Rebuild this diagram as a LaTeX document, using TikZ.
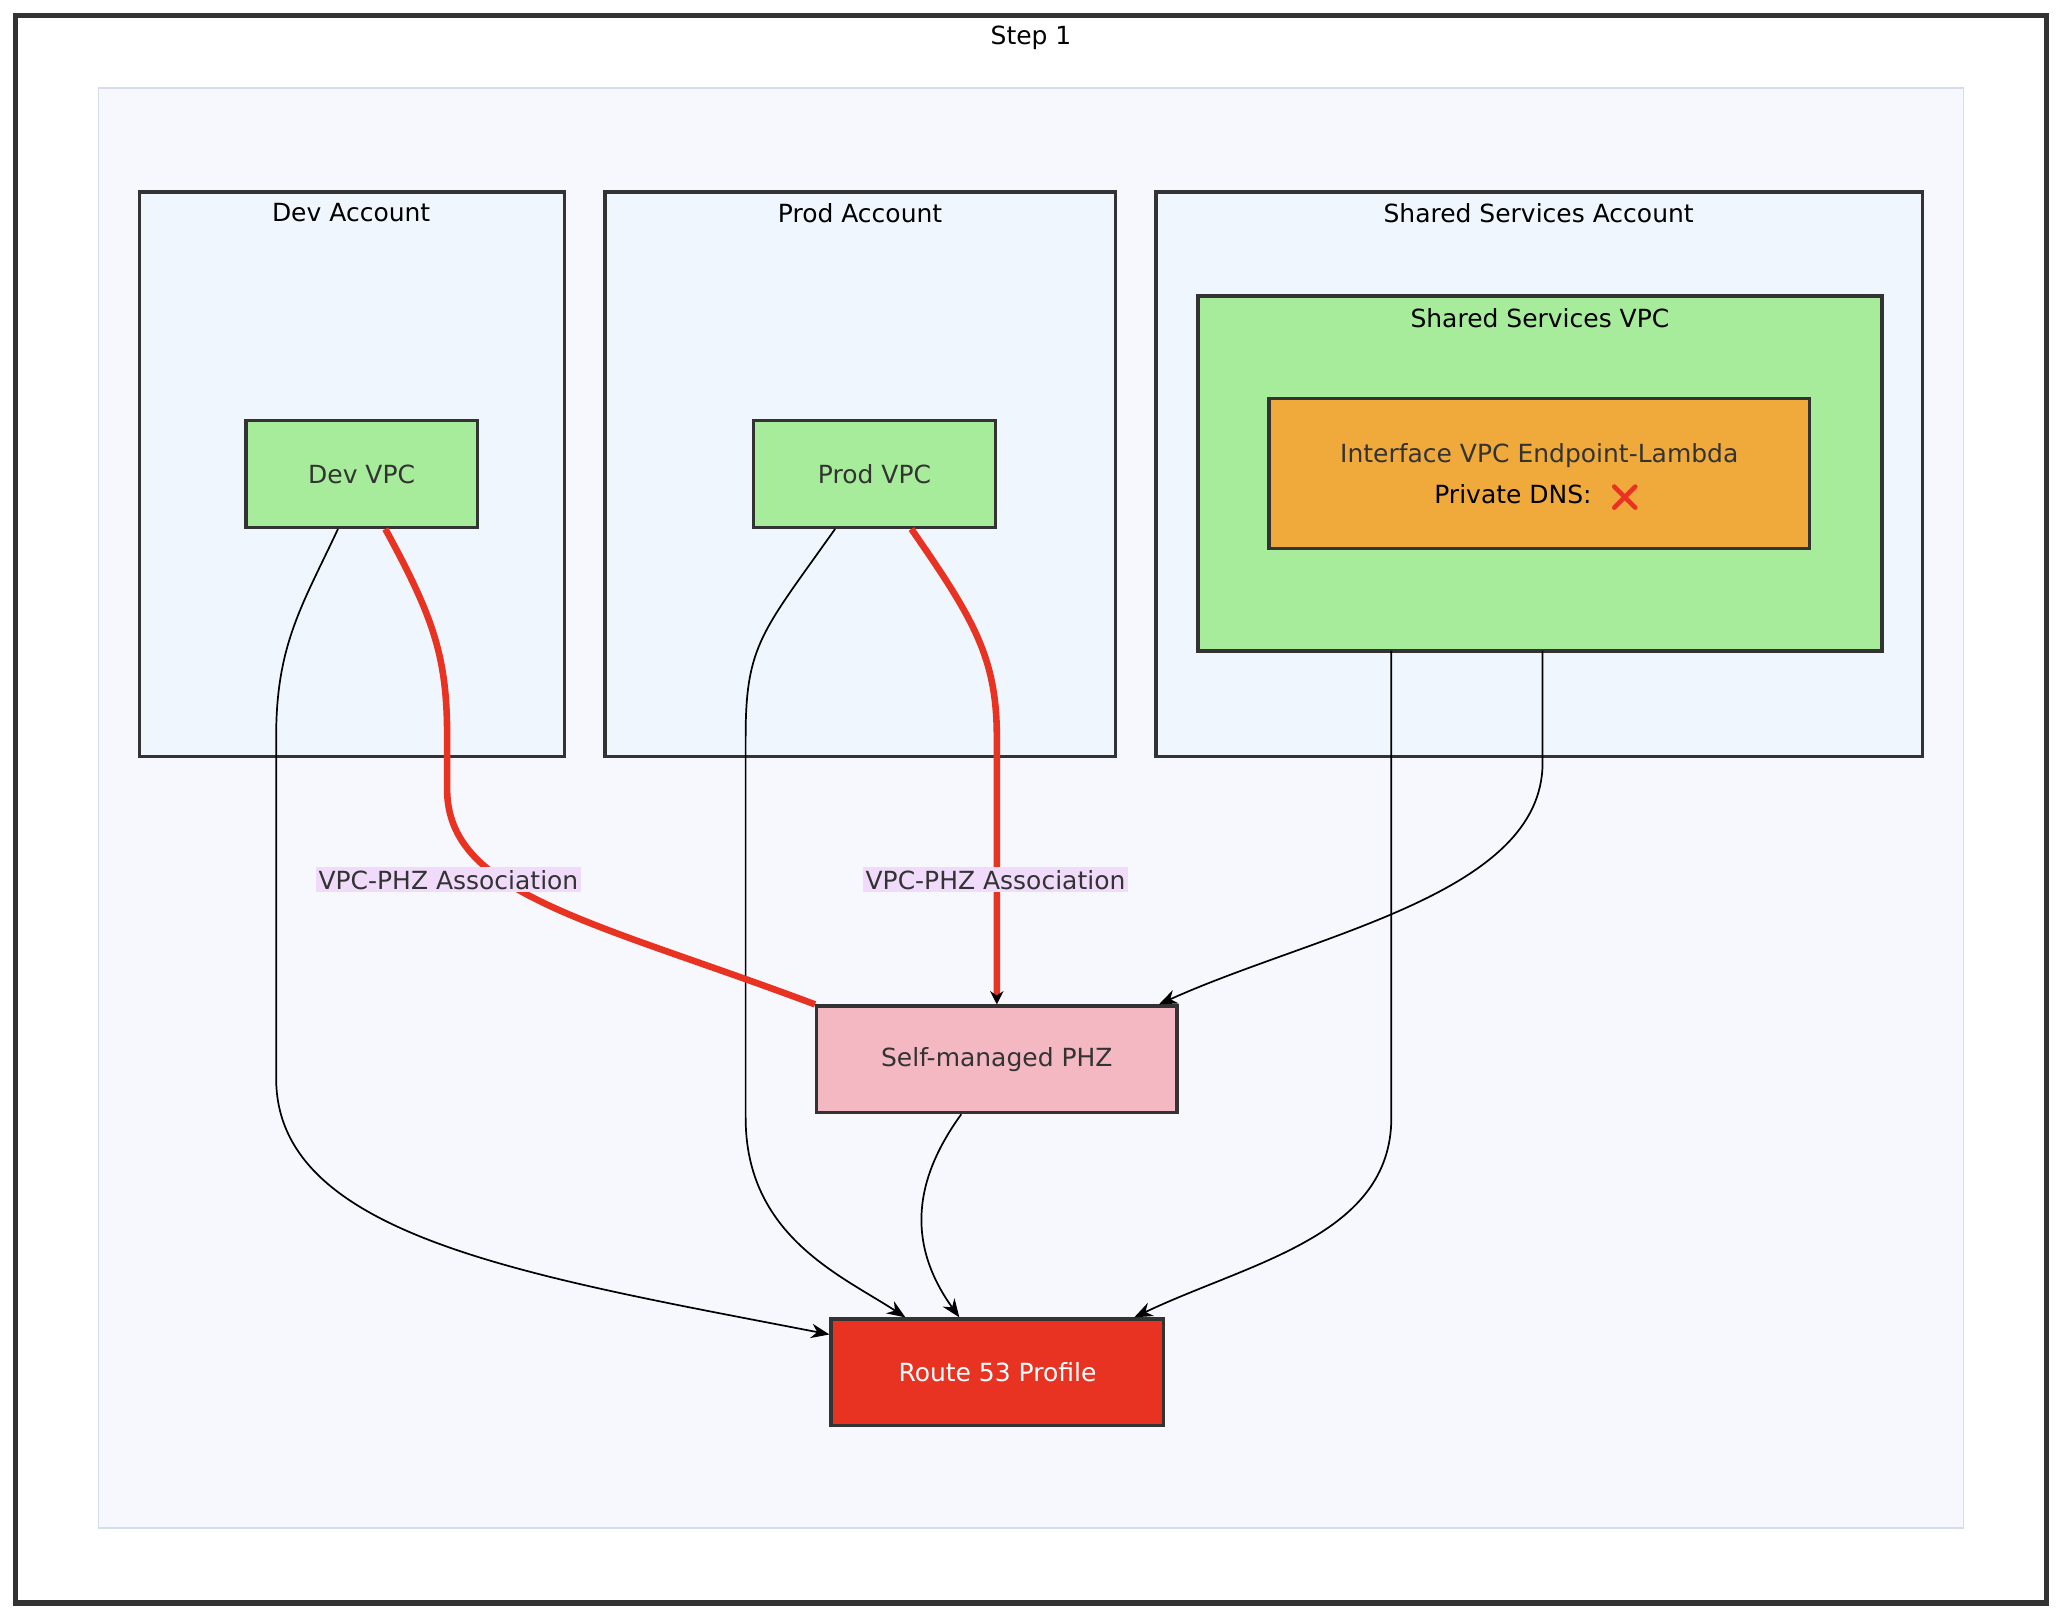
\documentclass[tikz,border=0pt]{standalone}
\usepackage{fontspec}
\setmainfont{DejaVu Sans}
\usetikzlibrary{arrows.meta,calc}
\definecolor{vpc}{HTML}{A6EC9A}
\definecolor{acct}{HTML}{EFF6FD}
\definecolor{bg}{HTML}{F7F8FD}
\definecolor{bgline}{HTML}{D5DCEF}
\definecolor{dark}{HTML}{333333}
\definecolor{red1}{HTML}{E83323}
\definecolor{lbl}{HTML}{F0DCFA}
\definecolor{orng}{HTML}{F0A93B}
\definecolor{pnk}{HTML}{F4B8C3}
\begin{document}
\begin{tikzpicture}[x=1pt,y=-1pt,
  font=\fontsize{19}{23}\selectfont,
  box/.style={draw=dark,line width=2.5pt},
  title/.style={anchor=center,text=black},
  nd/.style={box,minimum height=81pt,text=dark},
  blk/.style={draw=black,line width=1.3pt,-{Stealth[length=14pt,width=11pt]}},
  rd/.style={draw=red1,line width=5pt},
  lab/.style={fill=lbl,text=dark,inner sep=2pt}]
\useasboundingbox (0,0) rectangle (1568,1232);
\draw[dark,line width=4pt] (12,12) rectangle (1556,1219);
\node[title] (s1) at (784,29) {Step 1};
\draw[fill=bg,draw=bgline,line width=1.2pt] (75,67) rectangle (1493,1162);
\draw[box,fill=acct] (106,146) rectangle (429,575);
\node[title] (t1) at (267,162) {Dev Account};
\draw[box,fill=acct] (460,146) rectangle (848,575);
\node[title] (t2) at (654,162) {Prod Account};
\draw[box,fill=acct] (879,146) rectangle (1462,575);
\node[title] (t3) at (1170,162) {Shared Services Account};
\node[box,fill=vpc,minimum width=520pt,minimum height=270pt] (svpc) at (1171,360) {};
\node[title] (t4) at (1171,242) {Shared Services VPC};
\node[nd,fill=orng,minimum width=411pt,minimum height=114pt,align=center] (ep) at (1170.5,360)
  {Interface VPC Endpoint-Lambda\\[8pt]\textcolor{black}{Private DNS:}\hspace*{40pt}};
\draw[red1,line width=3.5pt,line cap=round] ($(ep.center)+(57,10)$) -- ++(16,16) ($(ep.center)+(73,10)$) -- ++(-16,16);
\node[nd,fill=vpc,minimum width=176pt] (dev) at (275,360.5) {Dev VPC};
\node[nd,fill=vpc,minimum width=184pt] (prod) at (665,360.5) {Prod VPC};
\node[nd,fill=pnk,minimum width=274pt] (phz) at (758,805.5) {Self-managed PHZ};
\node[nd,fill=red1,text=white,minimum width=253pt] (r53) at (758.5,1043.5) {Route 53 Profile};
% black edges
\draw[blk] ($(dev.south)+(-18,0)$) .. controls (230,460) and (210,490) .. (210,560) -- (210,820) .. controls (210,940) and (400,970) .. ($(r53.north west)+(0,13)$);
\draw[blk] ($(prod.south)+(-30,0)$) .. controls (580,480) and (567,490) .. (567,560) -- (567,850) .. controls (567,940) and (640,970) .. ($(r53.north)+(-70,0)$);
\draw[blk] ($(phz.south)+(-27,0)$) .. controls (700,890) and (685,940) .. ($(r53.north)+(-29,0)$);
\draw[blk] (1058,495) -- (1058,850) .. controls (1058,940) and (950,960) .. ($(r53.north)+(104,0)$);
\draw[blk] (1173,495) -- (1173,580) .. controls (1173,680) and (1000,710) .. ($(phz.north east)+(-15,0)$);
% red edges
\draw[rd] ($(dev.south)+(18,0)$) .. controls (330,470) and (340,500) .. (340,560) -- (340,600) .. controls (340,680) and (450,700) .. (phz.north west);
\draw[rd,-{Stealth[length=10pt,width=10pt,color=black]}] ($(prod.south)+(28,0)$) .. controls (740,470) and (758,500) .. (758,560) -- (phz.north);
\node[lab] (l1) at (341,669) {VPC-PHZ Association};
\node[lab] (l2) at (757,669) {VPC-PHZ Association};
\end{tikzpicture}
\end{document}
